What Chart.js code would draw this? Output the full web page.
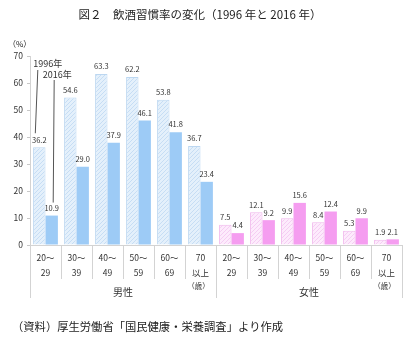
<!DOCTYPE html>
<html lang="ja">
<head>
<meta charset="utf-8">
<script src="https://cdn.jsdelivr.net/npm/chart.js@4"></script>
<style>
  body { margin: 0; background: #fff; }
  #wrap { width: 416px; height: 341px; }
  canvas { background: #fff; }
</style>
</head>
<body>
<div id="wrap"><canvas id="drink" width="416" height="341"></canvas></div>
<script>
// 飲酒習慣率（%）男性6区分＋女性6区分
const ageLabels = [['20～', '29'], ['30～', '39'], ['40～', '49'], ['50～', '59'], ['60～', '69'], ['70', '以上']];
const sexes = ['男性', '女性'];
const rate1996 = [36.2, 54.6, 63.3, 62.2, 53.8, 36.7, 7.5, 12.1, 9.9, 8.4, 5.3, 1.9];
const rate2016 = [10.9, 29.0, 37.9, 46.1, 41.8, 23.4, 4.4, 9.2, 15.6, 12.4, 9.9, 2.1];
const yTicks = [0, 10, 20, 30, 40, 50, 60, 70];
const yearNames = ['1996年', '2016年'];
const titleText = '図２　飲酒習慣率の変化（1996 年と 2016 年）';
const sourceText = '（資料）厚生労働省「国民健康・栄養調査」より作成';

const JP = '"Noto Sans CJK JP", "Noto Sans", sans-serif';
const canvas = document.getElementById('drink');
const mainCtx = canvas.getContext('2d');

// fine diagonal hatch for the 1996 bars
function hatch(base, ink) {
    const c = document.createElement('canvas');
    c.width = c.height = 4;
    const g = c.getContext('2d');
    g.fillStyle = base;
    g.fillRect(0, 0, 4, 4);
    g.fillStyle = ink;
    for (let i = 0; i < 4; i++) g.fillRect(i, 3 - i, 1, 1);
    return mainCtx.createPattern(c, 'repeat');
}

const palette = {
    '男性': { old: hatch('#E4F0FB', '#C6DDF4'), oldBorder: '#BCD7F1', now: '#9DCBF6' },
    '女性': { old: hatch('#FDEBFC', '#F5CDF3'), oldBorder: '#F0B6EC', now: '#F59DF0' }
};

const labels = sexes.flatMap(() => ageLabels);
const sexOf = labels.map((_, i) => sexes[Math.floor(i / ageLabels.length)]);

const valueLabels = {
    id: 'valueLabels',
    afterDatasetsDraw(chart) {
        const ctx = chart.ctx;
        ctx.save();
        ctx.font = '7.5px ' + JP;
        ctx.fillStyle = '#333';
        ctx.textAlign = 'center';
        ctx.textBaseline = 'middle';
        chart.data.datasets.forEach((ds, d) => {
            chart.getDatasetMeta(d).data.forEach((bar, i) => {
                ctx.fillText(ds.data[i].toFixed(1), bar.x, bar.y - 7.5);
            });
        });
        ctx.restore();
    }
};

const decorations = {
    id: 'decorations',
    afterDraw(chart) {
        const ctx = chart.ctx;
        const x = chart.scales.x, y = chart.scales.y;
        const base = y.getPixelForValue(0);
        const half = (x.getPixelForValue(1) - x.getPixelForValue(0)) / 2;
        ctx.save();

        // title and source
        ctx.fillStyle = '#222';
        ctx.textAlign = 'center';
        ctx.textBaseline = 'middle';
        ctx.font = '11.5px ' + JP;
        ctx.fillText(titleText, 200, 15);
        ctx.textAlign = 'left';
        ctx.font = '11.3px ' + JP;
        ctx.fillText(sourceText, 12, 327);
        ctx.font = '8px ' + JP;
        ctx.fillText('（%）', 8, 44);

        // axis line and category boxes
        ctx.strokeStyle = '#d3d3d3';
        ctx.lineWidth = 1;
        ctx.beginPath();
        ctx.moveTo(x.left, Math.round(base) + 0.5);
        ctx.lineTo(x.right, Math.round(base) + 0.5);
        for (let i = 0; i <= labels.length; i++) {
            const px = Math.round(x.getPixelForValue(Math.min(i, labels.length - 1)) + (i < labels.length ? -half : half)) + 0.5;
            const len = i % ageLabels.length === 0 ? 53 : 34;
            ctx.moveTo(px, base);
            ctx.lineTo(px, base + len);
        }
        ctx.stroke();

        ctx.fillStyle = '#333';
        ctx.textAlign = 'center';
        ctx.font = '8.5px ' + JP;
        labels.forEach((lab, i) => {
            const px = x.getPixelForValue(i);
            ctx.fillText(lab[0], px, base + 13);
            ctx.fillText(lab[1], px, base + 27.5);
        });

        sexes.forEach((s, g) => {
            const first = x.getPixelForValue(g * ageLabels.length);
            const last = x.getPixelForValue((g + 1) * ageLabels.length - 1);
            ctx.font = '10px ' + JP;
            ctx.fillText(s, (first + last) / 2, base + 47);
            ctx.font = '7.5px ' + JP;
            ctx.fillText('（歳）', last - 2, base + 41);
        });

        // year captions with leader lines to the first pair of bars
        const b96 = chart.getDatasetMeta(0).data[0];
        const b16 = chart.getDatasetMeta(1).data[0];
        ctx.font = '9px ' + JP;
        ctx.textAlign = 'left';
        ctx.fillText(yearNames[0], b96.x - 6, 64);
        ctx.fillText(yearNames[1], b16.x - 9, 75);
        ctx.strokeStyle = '#555';
        ctx.beginPath();
        ctx.moveTo(b96.x - 1.5, 70);
        ctx.lineTo(b96.x - 4, b96.y - 14);
        ctx.moveTo(b16.x + 2.5, 80);
        ctx.lineTo(b16.x + 1.5, b16.y - 13);
        ctx.stroke();
        ctx.restore();
    }
};

new Chart(canvas, {
    type: 'bar',
    data: {
        labels: labels,
        datasets: [
            {
                label: yearNames[0],
                data: rate1996,
                backgroundColor: sexOf.map(s => palette[s].old),
                borderColor: sexOf.map(s => palette[s].oldBorder),
                borderWidth: 1,
                categoryPercentage: 0.8,
                barPercentage: 1.0
            },
            {
                label: yearNames[1],
                data: rate2016,
                backgroundColor: sexOf.map(s => palette[s].now),
                borderWidth: 0,
                categoryPercentage: 0.8,
                barPercentage: 1.0
            }
        ]
    },
    options: {
        responsive: false,
        animation: false,
        layout: { padding: { top: 56, right: 14, bottom: 96, left: 0 } },
        plugins: {
            legend: { display: false },
            tooltip: { enabled: false }
        },
        scales: {
            x: { display: false },
            y: {
                min: yTicks[0],
                max: yTicks[yTicks.length - 1],
                afterBuildTicks: s => { s.ticks = yTicks.map(v => ({ value: v })); },
                afterFit: s => { s.width = 30; },
                border: { color: '#d3d3d3' },
                grid: { drawOnChartArea: false, tickLength: 3, color: '#c8c8c8' },
                ticks: { font: { size: 8.5, family: JP }, color: '#333', padding: 4 }
            }
        }
    },
    plugins: [valueLabels, decorations]
});
</script>
</body>
</html>
